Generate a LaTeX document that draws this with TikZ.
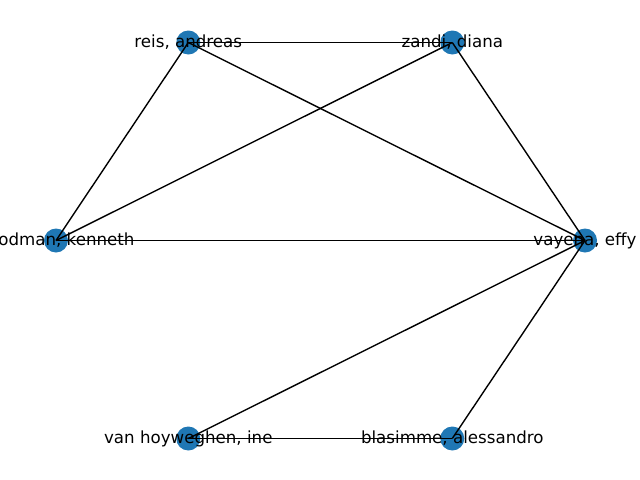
\documentclass[tikz,border=0pt]{standalone}
\usepackage{fontspec}
\setmainfont{DejaVu Sans}
\definecolor{nxblue}{HTML}{1F77B4}
\begin{document}
\begin{tikzpicture}[x=0.72pt,y=-0.72pt,
  vert/.style={circle,fill=nxblue,draw=none,minimum size=17.28pt,inner sep=0pt},
  lbl/.style={inner sep=0pt,font=\fontsize{12}{14}\selectfont,text=black},
  edge/.style={draw=black,line width=1pt}]
\useasboundingbox (0,0) rectangle (640,480);
\clip (0,0) rectangle (640,480);
% nodes
\node[vert] (reis) at (188.3,42.5) {};
\node[vert] (zandi) at (452.3,42.5) {};
\node[vert] (goodman) at (56,240.5) {};
\node[vert] (vayena) at (585,240.5) {};
\node[vert] (vanh) at (188.3,438.5) {};
\node[vert] (blas) at (452.3,438.5) {};
% edges
\draw[edge] (reis.center) -- (zandi.center);
\draw[edge] (reis.center) -- (goodman.center);
\draw[edge] (reis.center) -- (vayena.center);
\draw[edge] (zandi.center) -- (goodman.center);
\draw[edge] (zandi.center) -- (vayena.center);
\draw[edge] (goodman.center) -- (vayena.center);
\draw[edge] (vayena.center) -- (vanh.center);
\draw[edge] (vayena.center) -- (blas.center);
\draw[edge] (vanh.center) -- (blas.center);
% labels
\node[lbl] (reisl) at (reis) {reis, andreas};
\node[lbl] (zandil) at (zandi) {zandi, diana};
\node[lbl] (goodmanl) at (goodman) {goodman, kenneth};
\node[lbl] (vayenal) at (vayena) {vayena, effy};
\node[lbl] (vanhl) at (vanh) {van hoyweghen, ine};
\node[lbl] (blasl) at (blas) {blasimme, alessandro};
\end{tikzpicture}
\end{document}
